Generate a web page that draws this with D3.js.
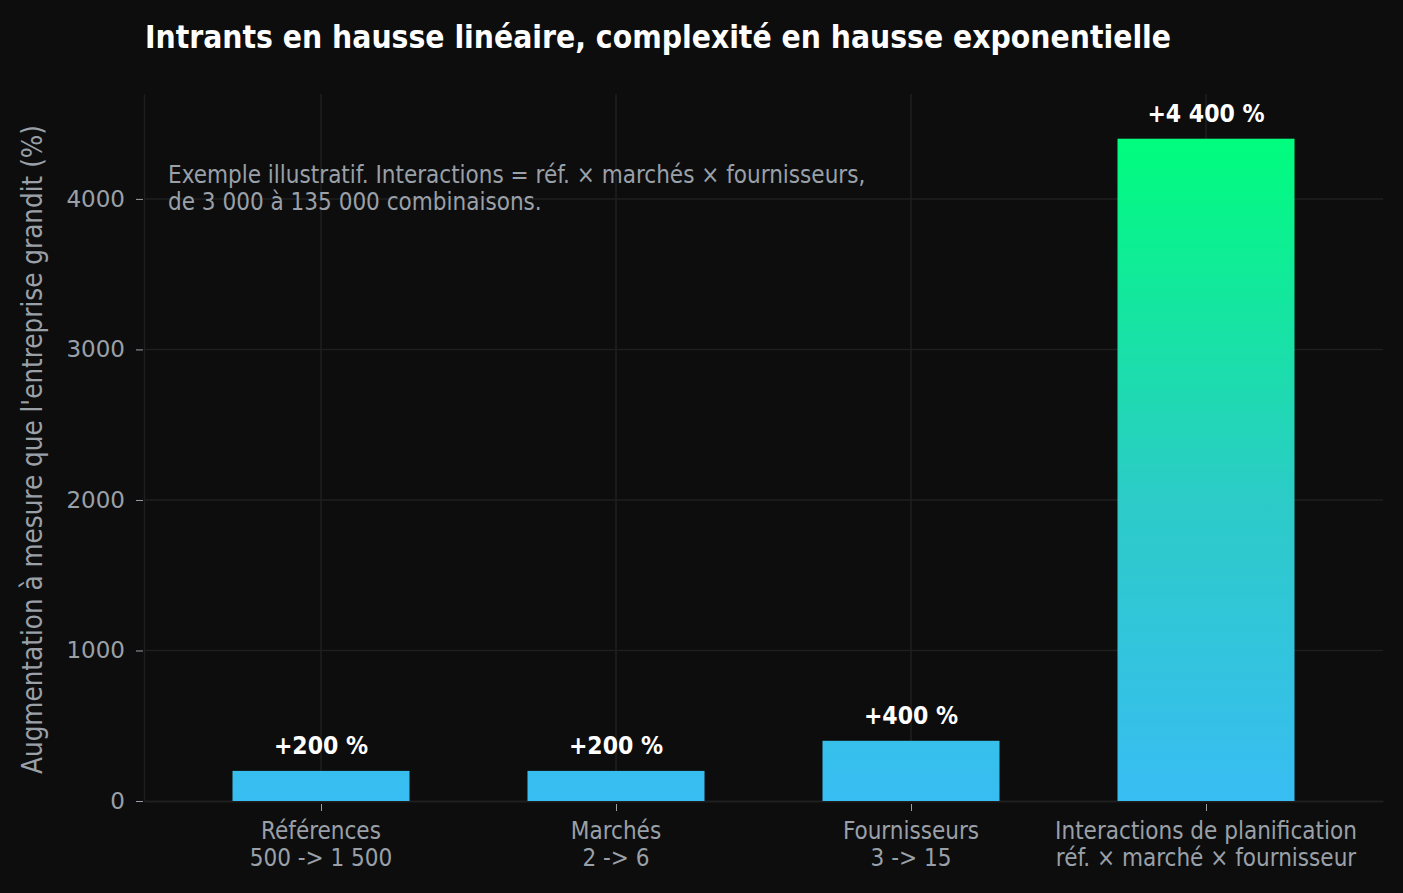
<!DOCTYPE html>
<html>
<head>
<meta charset="utf-8">
<script src="https://cdn.jsdelivr.net/npm/d3@7"></script>
<style>
  body { margin: 0; background: #0d0d0d; }
  svg text { font-family: "DejaVu Sans", sans-serif; font-stretch: condensed; }
</style>
</head>
<body>
<script>
const categories = ["Références", "Marchés", "Fournisseurs", "Interactions de planification"];
const subLabels = ["500 -> 1 500", "2 -> 6", "3 -> 15", "réf. × marché × fournisseur"];
const values = [200, 200, 400, 4400];
const valueLabels = ["+200 %", "+200 %", "+400 %", "+4 400 %"];
const yTicks = [0, 1000, 2000, 3000, 4000];
const note = ["Exemple illustratif. Interactions = réf. × marchés × fournisseurs,", "de 3 000 à 135 000 combinaisons."];

const W = 1403, H = 893;
const m = {left: 144, right: 20, top: 94, bottom: 92};

const svg = d3.select('body').append('svg')
  .attr('width', W).attr('height', H);
svg.append('rect').attr('width', W).attr('height', H).attr('fill', '#0d0d0d');

const x = d3.scalePoint().domain(categories)
  .range([m.left, W - m.right]).padding(0.6);
const y = d3.scaleLinear().domain([0, 4697]).range([H - m.bottom, m.top]);
const barW = x.step() * 0.6;

const grad = svg.append('defs').append('linearGradient')
  .attr('id', 'g').attr('gradientUnits', 'userSpaceOnUse')
  .attr('x1', 0).attr('x2', 0).attr('y1', y(0)).attr('y2', y(4400));
grad.append('stop').attr('offset', 0).attr('stop-color', '#38bdf2');
grad.append('stop').attr('offset', 0.45).attr('stop-color', '#2ccbc8');
grad.append('stop').attr('offset', 1).attr('stop-color', '#00fd7d');

// grid
const grid = svg.append('g').attr('stroke', '#1f1f1f').attr('stroke-width', 1.5);
grid.selectAll('.h').data(yTicks.slice(1)).join('line')
  .attr('x1', m.left).attr('x2', W - m.right)
  .attr('y1', d => y(d)).attr('y2', d => y(d));
grid.selectAll('.v').data(categories).join('line')
  .attr('x1', d => x(d)).attr('x2', d => x(d))
  .attr('y1', m.top).attr('y2', y(0));

// axes
const yAxis = svg.append('g').attr('transform', `translate(${m.left},0)`)
  .call(d3.axisLeft(y).tickValues(yTicks).tickFormat(d3.format('d'))
    .tickSize(7).tickSizeOuter(0).tickPadding(12));
yAxis.select('.domain').attr('stroke', '#1f1f1f').attr('stroke-width', 1.5);
yAxis.selectAll('.tick line').attr('stroke', '#9aa0a8').attr('x2', -8).attr('x1', -1);
yAxis.selectAll('.tick text').attr('fill', '#9aa0a8')
  .style('font-size', '23px').style('font-stretch', 'normal');

const xAxis = svg.append('g').attr('transform', `translate(0,${y(0)})`)
  .call(d3.axisBottom(x).tickSize(10).tickSizeOuter(0).tickFormat(''));
xAxis.select('.domain').attr('stroke', '#1f1f1f').attr('stroke-width', 2);
xAxis.selectAll('.tick line').attr('stroke', '#9aa0a8').attr('y1', 3);

const xl = svg.append('g').attr('fill', '#9aa0a8').attr('font-size', 24).attr('text-anchor', 'middle');
xl.selectAll('.a').data(categories).join('text')
  .attr('x', d => x(d)).attr('y', y(0) + 38).text(d => d);
xl.selectAll('.b').data(subLabels).join('text')
  .attr('x', (d, i) => x(categories[i])).attr('y', y(0) + 65).text(d => d);

// bars
svg.append('g').selectAll('rect').data(values).join('rect')
  .attr('x', (d, i) => x(categories[i]) - barW / 2)
  .attr('width', barW)
  .attr('y', d => y(d))
  .attr('height', d => y(0) - y(d))
  .attr('fill', 'url(#g)');

svg.append('g').selectAll('text').data(values).join('text')
  .attr('x', (d, i) => x(categories[i])).attr('y', d => y(d) - 17)
  .attr('text-anchor', 'middle').attr('fill', '#ffffff')
  .attr('font-size', 24.5).attr('font-weight', 'bold')
  .text((d, i) => valueLabels[i]);

// note
svg.append('g').selectAll('text').data(note).join('text')
  .attr('x', 168).attr('y', (d, i) => 183 + i * 27)
  .attr('fill', '#9aa0a8').attr('font-size', 24).text(d => d);

// y label
svg.append('text')
  .attr('transform', `translate(42,${(m.top + y(0)) / 2 + 2}) rotate(-90)`)
  .attr('text-anchor', 'middle').attr('fill', '#9aa0a8').attr('font-size', 27.5)
  .text("Augmentation à mesure que l'entreprise grandit (%)");

// title
svg.append('text').attr('x', 145).attr('y', 48)
  .attr('fill', '#ffffff').attr('font-size', 31.5).attr('font-weight', 'bold')
  .text('Intrants en hausse linéaire, complexité en hausse exponentielle');
</script>
</body>
</html>
